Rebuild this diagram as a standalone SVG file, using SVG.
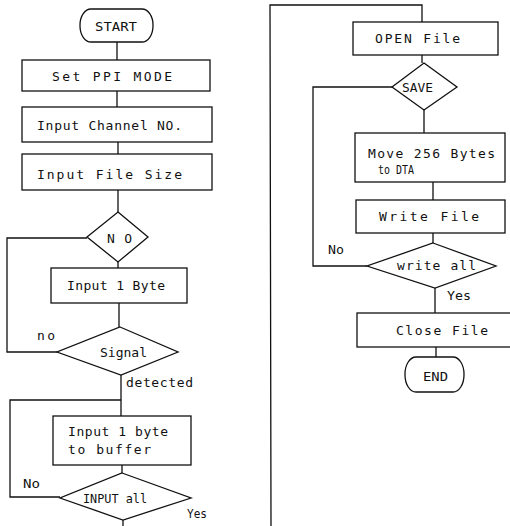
<svg xmlns="http://www.w3.org/2000/svg" width="510" height="526" viewBox="0 0 510 526">
<style>
.n{fill:#fff;stroke:#111;stroke-width:1.3}
.c{fill:none;stroke:#111;stroke-width:1.3}
text{font-family:"DejaVu Sans Mono","Liberation Mono",monospace;font-size:13px;fill:#111}
</style>
<rect width="510" height="526" fill="#fff"/>
<g id="connectors">
<path class="c" d="M117,42V60M117,91V107M118,142V154M118,190V212M118,262V268M119,303V327M121,375V416M122,465V473M123,520V526"/>
<path class="c" d="M87,238H7V352H57"/>
<path class="c" d="M121,400H10V497H60"/>
<path class="c" d="M271,526L270,5H422V22M422,55V63M424,110V133M433,182V200M433,233V243M435,288V313M436,347V357"/>
<path class="c" d="M367,266H313V87H392"/>
</g>
<g id="start"><rect class="n" x="80" y="9" width="73" height="33" rx="11" ry="16"/><text x="95" y="31" textLength="42" lengthAdjust="spacingAndGlyphs">START</text></g>
<g id="setppi"><rect class="n" x="22" y="60" width="188" height="31"/><text x="52" y="81" textLength="120">Set PPI MODE</text></g>
<g id="channel"><rect class="n" x="22" y="107" width="190" height="35"/><text x="37" y="130" textLength="145">Input Channel NO.</text></g>
<g id="filesize"><rect class="n" x="22" y="154" width="190" height="36"/><text x="37" y="179" textLength="145">Input File Size</text></g>
<g id="no"><polygon class="n" points="118,212 148,237 118,262 87,237"/><text x="107" y="243" textLength="25">NO</text></g>
<g id="input1byte"><rect class="n" x="51" y="268" width="136" height="35"/><text x="67" y="290" textLength="98">Input 1 Byte</text></g>
<g id="signal"><polygon class="n" points="120,327 178,352 121,375 57,352"/><text x="100" y="357" textLength="47" lengthAdjust="spacingAndGlyphs">Signal</text></g>
<text x="37" y="340" textLength="18">no</text>
<text x="126" y="387" textLength="67">detected</text>
<g id="tobuffer"><rect class="n" x="53" y="416" width="138" height="49"/><text x="68" y="436" textLength="100">Input 1 byte</text><text x="68" y="454" textLength="83">to buffer</text></g>
<g id="inputall"><polygon class="n" points="122,473 191,498 123,520 60,498"/><text x="83" y="503" textLength="64" lengthAdjust="spacingAndGlyphs">INPUT all</text></g>
<text x="23" y="488" textLength="17" lengthAdjust="spacingAndGlyphs">No</text>
<text x="187" y="518" textLength="20" lengthAdjust="spacingAndGlyphs">Yes</text>
<g id="openfile"><rect class="n" x="353" y="22" width="145" height="33"/><text x="375" y="43" textLength="85">OPEN File</text></g>
<g id="save"><polygon class="n" points="424,63 457,87 424,110 392,87"/><text x="402" y="92" textLength="31" lengthAdjust="spacingAndGlyphs">SAVE</text></g>
<g id="move"><rect class="n" x="355" y="133" width="150" height="49"/><text x="368" y="158" textLength="127">Move 256 Bytes</text><text x="378" y="174" textLength="36" lengthAdjust="spacingAndGlyphs">to DTA</text></g>
<g id="writefile"><rect class="n" x="356" y="200" width="149" height="33"/><text x="379" y="221" textLength="100">Write File</text></g>
<g id="writeall"><polygon class="n" points="433,243 496,266 435,288 367,266"/><text x="397" y="270" textLength="79">write all</text></g>
<text x="328" y="254" textLength="16" lengthAdjust="spacingAndGlyphs">No</text>
<text x="447" y="300" textLength="24" lengthAdjust="spacingAndGlyphs">Yes</text>
<g id="closefile"><rect class="n" x="357" y="313" width="160" height="34"/><text x="396" y="335" textLength="92">Close File</text></g>
<g id="end"><rect class="n" x="405" y="357" width="59" height="35" rx="11" ry="17"/><text x="423" y="381" textLength="25" lengthAdjust="spacingAndGlyphs">END</text></g>
</svg>
